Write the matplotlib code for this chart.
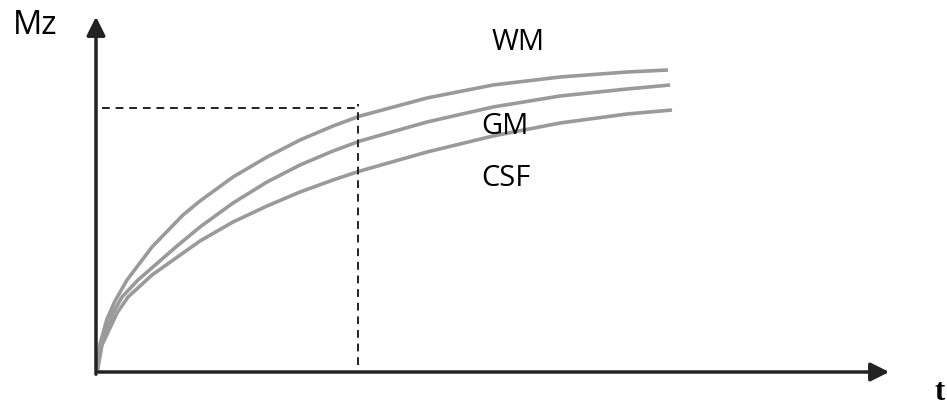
import numpy as np
import matplotlib.pyplot as plt

# Curve readings (arbitrary units: t to the right, Mz upward, origin at the axes corner)
t_wm = [0, 3, 10, 18, 30, 55, 86, 103, 136, 170, 203, 236, 263, 330, 396, 463, 530, 571]
mz_wm = [0, 29, 54, 72, 93, 126, 158, 172, 196, 216, 233, 247, 257, 275, 288, 296, 301, 303]

t_gm = [0, 4, 16, 25, 41, 80, 103, 136, 170, 203, 236, 263, 330, 396, 463, 530, 573]
mz_gm = [0, 29, 60, 76, 93, 127, 146, 170, 191, 208, 222, 232, 251, 266, 277, 284, 288]

t_csf = [0, 5, 20, 31, 55, 103, 136, 170, 203, 236, 263, 330, 396, 463, 530, 575]
mz_csf = [0, 28, 60, 76, 98, 132, 151, 167, 181, 193, 202, 221, 237, 250, 259, 263]

labels = ["WM", "GM", "CSF"]
t_mark = 261
mz_mark = 265

fig = plt.figure(figsize=(9.47, 4.07), dpi=100)
ax = fig.add_axes([0, 0, 1, 1])
ax.set_xlim(-97, 850)
ax.set_ylim(-34, 373)
ax.axis('off')

# Curves
for t, mz in [(t_wm, mz_wm), (t_gm, mz_gm), (t_csf, mz_csf)]:
    ax.plot(t, mz, color='#9a9a9a', lw=2.6, solid_joinstyle='round', solid_capstyle='butt')

# Dashed guide lines
ax.plot([5, t_mark], [mz_mark, mz_mark], color='#222222', lw=1.4, ls=(0, (4, 3)))
ax.plot([t_mark, t_mark], [8, mz_mark + 4], color='#222222', lw=1.4, ls=(0, (4, 3)))

# Axes with arrows
ax.annotate('', xy=(-1, 359), xytext=(-1, -4),
            arrowprops=dict(arrowstyle='-|>', lw=2.5, color='#222222', mutation_scale=28))
ax.annotate('', xy=(795, 1), xytext=(-1, 1),
            arrowprops=dict(arrowstyle='-|>', lw=2.5, color='#222222', mutation_scale=28))

# Labels
ax.text(-62, 348, "Mz", fontsize=23.5, family='Open Sans', ha='center', va='center')
ax.text(421, 330, labels[0], fontsize=21, family='Open Sans', ha='center', va='center')
ax.text(408, 246, labels[1], fontsize=21, family='Open Sans', ha='center', va='center')
ax.text(409, 194, labels[2], fontsize=21, family='Open Sans', ha='center', va='center')
ax.text(843, -19, "t", fontsize=22, family='Liberation Serif', weight='bold',
        ha='center', va='center')

fig.savefig("out.png", dpi=100)
